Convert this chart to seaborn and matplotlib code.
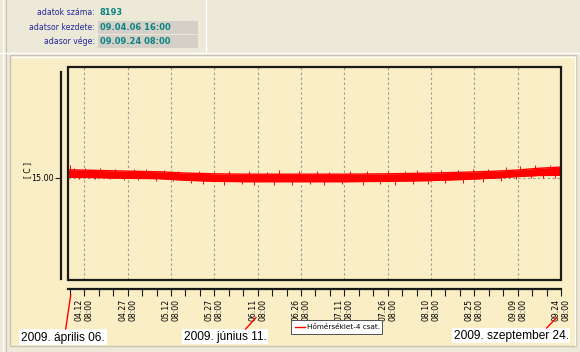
import numpy as np
import pandas as pd
import matplotlib
matplotlib.use("Agg")
import matplotlib.pyplot as plt
import matplotlib.dates as mdates
from matplotlib.patches import Rectangle
import seaborn as sns

# ---------------- data ----------------
info_labels = ["adatok száma:", "adatsor kezdete:", "adasor vége:"]
info_values = ["8193", "09.04.06 16:00", "09.09.24 08:00"]

series_name = "Hőmérséklet-4 csat."
start_date = "2009-04-06 16:00"
end_date = "2009-09-24 08:00"

band_dates = ["2009-04-06 16:00", "2009-04-17 00:00", "2009-04-27 00:00", "2009-05-08 00:00",
              "2009-05-18 00:00", "2009-05-28 00:00", "2009-06-07 00:00", "2009-06-18 00:00",
              "2009-06-28 00:00", "2009-07-12 00:00", "2009-07-26 00:00", "2009-08-09 00:00",
              "2009-08-23 00:00", "2009-09-02 00:00", "2009-09-09 00:00", "2009-09-16 00:00",
              "2009-09-24 08:00"]
band_upper = [16.20, 16.10, 16.00, 15.90, 15.70, 15.60, 15.55, 15.55, 15.55, 15.55,
              15.60, 15.70, 15.85, 16.00, 16.15, 16.40, 16.60]
band_lower = [15.10, 15.05, 14.95, 14.90, 14.65, 14.50, 14.45, 14.45, 14.45, 14.45,
              14.50, 14.60, 14.80, 15.00, 15.20, 15.35, 15.40]

spike_dates = ["2009-04-07 06:00", "2009-04-08 20:00", "2009-04-10 10:00", "2009-04-12 14:00",
               "2009-04-16 02:00", "2009-04-17 18:00", "2009-04-21 09:00", "2009-04-22 21:00",
               "2009-04-26 04:00", "2009-04-29 15:00", "2009-04-30 23:00", "2009-05-03 12:00",
               "2009-05-07 07:00", "2009-05-09 19:00", "2009-05-13 03:00", "2009-05-14 16:00",
               "2009-05-19 08:00", "2009-05-21 22:00", "2009-05-23 11:00", "2009-05-27 05:00",
               "2009-05-30 17:00", "2009-06-01 06:00", "2009-06-05 20:00", "2009-06-08 09:00",
               "2009-06-09 23:00", "2009-06-14 12:00", "2009-06-17 02:00", "2009-06-18 15:00",
               "2009-06-23 04:00", "2009-06-25 18:00", "2009-06-29 07:00", "2009-07-01 21:00",
               "2009-07-04 10:00", "2009-07-05 23:00", "2009-07-10 13:00", "2009-07-13 03:00",
               "2009-07-17 16:00", "2009-07-19 05:00", "2009-07-23 19:00", "2009-07-26 08:00",
               "2009-07-28 22:00", "2009-08-01 11:00", "2009-08-04 01:00", "2009-08-05 14:00",
               "2009-08-09 04:00", "2009-08-13 17:00", "2009-08-15 06:00", "2009-08-19 20:00",
               "2009-08-21 09:00", "2009-08-24 23:00", "2009-08-28 12:00", "2009-08-30 02:00",
               "2009-09-03 15:00", "2009-09-05 05:00", "2009-09-08 18:00", "2009-09-10 07:00",
               "2009-09-13 21:00", "2009-09-15 10:00", "2009-09-18 00:00", "2009-09-20 13:00",
               "2009-09-22 03:00"]
spike_values = [16.90, 16.50, 14.90, 16.45, 14.85, 16.40, 14.80, 16.35, 14.75, 16.30,
                14.70, 16.25, 14.60, 16.10, 14.50, 16.00, 14.20, 15.95, 14.10, 15.90,
                14.00, 15.95, 14.05, 16.00, 14.00, 15.90, 13.90, 16.10, 14.00, 15.95,
                14.10, 16.05, 13.95, 15.90, 14.05, 16.00, 13.90, 15.95, 14.10, 16.05,
                14.00, 16.00, 14.15, 16.10, 14.10, 16.10, 14.20, 16.20, 14.30, 16.25,
                14.40, 16.35, 14.60, 16.60, 14.80, 16.75, 15.00, 16.90, 15.00, 16.95,
                15.05]

y_ticks = [15.0]
y_ticklabels = ["15.00"]
y_label = "[ C ]"

x_tick_dates = ["2009-04-12 08:00", "2009-04-27 08:00", "2009-05-12 08:00", "2009-05-27 08:00",
                "2009-06-11 08:00", "2009-06-26 08:00", "2009-07-11 08:00", "2009-07-26 08:00",
                "2009-08-10 08:00", "2009-08-25 08:00", "2009-09-09 08:00", "2009-09-24 08:00"]
x_tick_labels = ["04.12\n08:00", "04.27\n08:00", "05.12\n08:00", "05.27\n08:00",
                 "06.11\n08:00", "06.26\n08:00", "07.11\n08:00", "07.26\n08:00",
                 "08.10\n08:00", "08.25\n08:00", "09.09\n08:00", "09.24\n08:00"]

callouts = ["2009. április 06.", "2009. június 11.", "2009. szeptember 24."]

# ---------------- figure ----------------
W, H = 580, 352
fig = plt.figure(figsize=(W / 100, H / 100), dpi=100)
fig.patch.set_facecolor("#ECE9D8")

def px_axes(z):
    a = fig.add_axes([0, 0, 1, 1], zorder=z)
    a.set_xlim(0, W)
    a.set_ylim(H, 0)
    a.axis("off")
    return a

def to_num(seq):
    return mdates.date2num(pd.to_datetime(list(seq), format="mixed"))

bg = px_axes(0)
# left strip
bg.plot([3, 3], [0, H], color="#FFFFFF", lw=0.8)
bg.plot([6, 6], [0, H], color="#C8C4B0", lw=0.8)
# info panel border
bg.plot([206, 206], [0, 52], color="#FFFFFF", lw=1.0)
bg.plot([0, W], [52.5, 52.5], color="#FFFFFF", lw=1.0)
# chart panel
bg.add_patch(Rectangle((10, 55), 566, 291, facecolor="#F9EEC6", edgecolor="#C9C5B2", lw=1.0))
bg.plot([11.5, 574.5], [56.5, 56.5], color="#FFFFFF", lw=1.0)
bg.plot([574.5, 574.5], [56.5, 345], color="#FFFFFF", lw=1.0)

# info texts
label_color = "#25259A"
value_color = "#0B8383"
rows_y = [12.5, 27, 41]
for i, (lab, val, yy) in enumerate(zip(info_labels, info_values, rows_y)):
    bg.text(95, yy, lab, ha="right", va="center", fontsize=5.6, color=label_color,
            family="DejaVu Sans")
    if i > 0:
        bg.add_patch(Rectangle((98, yy - 6.5), 100, 13, facecolor="#D4D0C8", edgecolor="none"))
    bg.text(100, yy, val, ha="left", va="center", fontsize=6.0, color=value_color,
            family="DejaVu Sans", fontweight="bold")

bg.text(28, 170, y_label, rotation=90, ha="center", va="center", fontsize=5.5, color="black")

# ---------------- main axes ----------------
L, R, T, B = 68, 561, 67, 280
ax = fig.add_axes([L / W, (H - B) / H, (R - L) / W, (B - T) / H], zorder=2)
ax.set_facecolor("none")

xb = to_num(band_dates)
xs = to_num(spike_dates)
x0 = mdates.date2num(pd.Timestamp(start_date))
x1 = mdates.date2num(pd.Timestamp(end_date))

red = "#FF0000"
ax.fill_between(xb, band_lower, band_upper, color=red, lw=0, zorder=3)
sns.lineplot(x=xb, y=band_upper, color=red, lw=1.0, ax=ax, legend=False, zorder=3)
sns.lineplot(x=xb, y=band_lower, color=red, lw=1.0, ax=ax, legend=False, zorder=3)
mid = np.interp(xs, xb, (np.array(band_upper) + np.array(band_lower)) / 2)
ax.vlines(xs, mid, spike_values, color=red, lw=0.7, zorder=3)

ymin, ymax = 0, 31.3
ax.set_xlim(x0, x1)
ax.set_ylim(ymin, ymax)
ax.set_xlabel("")
ax.set_ylabel("")

# box
ax.add_patch(Rectangle((0, 0), 1, 1, transform=ax.transAxes, fill=False,
                       edgecolor="#1A1A1A", lw=1.6, clip_on=False, zorder=5))

for s in ["top", "right"]:
    ax.spines[s].set_visible(False)
ax.spines["left"].set_position(("outward", 5))
ax.spines["bottom"].set_position(("outward", 6.5))
ax.spines["left"].set_linewidth(1.6)
ax.spines["bottom"].set_linewidth(1.6)
ax.spines["left"].set_color("#1A1A1A")
ax.spines["bottom"].set_color("#1A1A1A")
pxu = (ymax - ymin) / (B - T)
ax.spines["left"].set_bounds(ymin + (B - 279) * pxu, ymin + (B - 72) * pxu)

xt = to_num(x_tick_dates)
ax.set_xticks(xt)
ax.set_xticklabels(x_tick_labels, rotation=90, fontsize=5.6, ha="center", va="top",
                   linespacing=1.15)
minor = mdates.date2num(pd.date_range("2009-04-07 08:00", end_date, freq="5D"))
ax.set_xticks(minor, minor=True)
ax.tick_params(axis="x", which="both", direction="out", length=5, width=0.8,
               color="#1A1A1A", pad=2)
ax.set_yticks(y_ticks)
ax.set_yticklabels(y_ticklabels, fontsize=5.8)
ax.tick_params(axis="y", direction="out", length=4, width=0.8, color="#1A1A1A", pad=1.5)

grid_kw = dict(color="#A09C94", lw=0.8, linestyle=(0, (2.2, 2.2)), zorder=1)
for xv in xt:
    ax.axvline(xv, **grid_kw)
for yv in y_ticks:
    ax.axhline(yv, **grid_kw)

# ---------------- overlay: legend and callouts ----------------
ov = px_axes(3)
ov.add_patch(Rectangle((291, 320), 91, 14, facecolor="white", edgecolor="#505050", lw=0.7))
ov.plot([295, 305], [327, 327], color=red, lw=1.0)
ov.text(307, 327.3, series_name, ha="left", va="center", fontsize=5.2, color="black")

boxes = [(19, 329, 88, 16), (182, 329, 86, 15), (452, 328, 118, 15)]
leaders = [((70.7, 295), (65.7, 329)), ((256, 317.5), (245.7, 329)), ((556.7, 317.5), (546.7, 328))]
for txt, (bx, by, bw, bh), (p, q) in zip(callouts, boxes, leaders):
    ov.plot([p[0], q[0]], [p[1], q[1]], color=red, lw=1.0)
    ov.add_patch(Rectangle((bx, by), bw, bh, facecolor="white", edgecolor="none"))
    ov.text(bx + 2, by + bh / 2 + 0.5, txt, ha="left", va="center", fontsize=8.6,
            family="Liberation Sans", color="black")

fig.savefig("out.png", dpi=100, facecolor=fig.get_facecolor())
